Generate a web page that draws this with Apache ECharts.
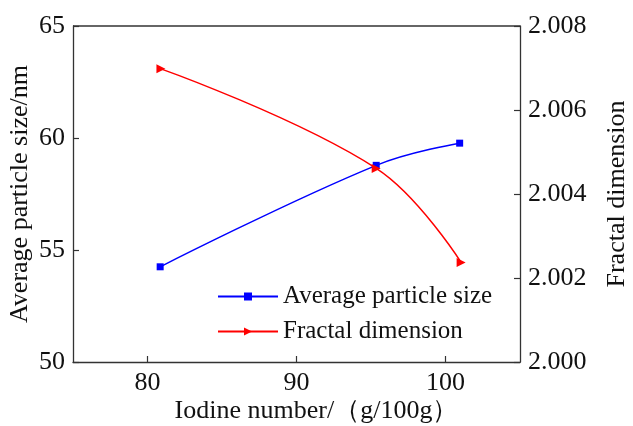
<!DOCTYPE html>
<html><head><meta charset="utf-8">
<script src="https://cdn.jsdelivr.net/npm/echarts@6/dist/echarts.min.js"></script>
<style>html,body{margin:0;padding:0;background:#fff}#c{width:633px;height:426px}</style>
</head><body><div id="c"></div>
<script>
const iodine = [80.85, 95.35, 100.95];
const particleSize = [54.25, 58.78, 59.77];
const iodineFD = [80.9, 95.35, 101.05];
const fractalDim = [2.00698, 2.00461, 2.00237];
const xTickValues = [80, 90, 100];
const seriesNames = ['Average particle size', 'Fractal dimension'];

const font = 'Liberation Serif';
const chart = echarts.init(document.getElementById('c'));
const axisLine = {show: true, lineStyle: {color: '#333', width: 1.3}};
const tick = {inside: true, length: 6, lineStyle: {color: '#333', width: 1.2}};
chart.setOption({
  animation: false,
  grid: {left: 73, right: 113, top: 26, bottom: 64, containLabel: false, outerBoundsMode: 'none'},
  legend: {
    orient: 'vertical', left: 217, top: 284, padding: 0, itemWidth: 60, itemHeight: 10, itemGap: 10,
    textStyle: {fontFamily: font, fontSize: 25, color: '#111'},
    data: seriesNames
  },
  xAxis: {
    type: 'value', min: 75, max: 105,
    name: 'Iodine number/（g/100g）', nameLocation: 'middle', nameGap: 36, nameMoveOverlap: false,
    nameTextStyle: {fontFamily: font, fontSize: 26, color: '#111', padding: [0, 0, 0, 40]},
    axisLine: axisLine,
    axisTick: Object.assign({customValues: xTickValues}, tick),
    splitLine: {show: false},
    axisLabel: {fontFamily: font, fontSize: 26, color: '#111', margin: 8, customValues: xTickValues}
  },
  yAxis: [{
    type: 'value', min: 50, max: 65, interval: 5, position: 'left',
    name: 'Average particle size/nm', nameLocation: 'middle', nameGap: 40, nameMoveOverlap: false,
    nameTextStyle: {fontFamily: font, fontSize: 26, color: '#111'},
    axisLine: axisLine, axisTick: tick,
    splitLine: {show: false},
    axisLabel: {fontFamily: font, fontSize: 26, color: '#111', margin: 8}
  }, {
    type: 'value', min: 2.000, max: 2.008, interval: 0.002, position: 'right',
    name: 'Fractal dimension', nameLocation: 'middle', nameGap: 84, nameRotate: 90, nameMoveOverlap: false,
    nameTextStyle: {fontFamily: font, fontSize: 26, color: '#111'},
    axisLine: axisLine, axisTick: tick,
    splitLine: {show: false},
    axisLabel: {fontFamily: font, fontSize: 26, color: '#111', margin: 8,
      formatter: v => v.toFixed(3)}
  }],
  graphic: [{type: 'line', shape: {x1: 73, y1: 26, x2: 520, y2: 26}, style: {stroke: '#333', lineWidth: 1.3}}],
  series: [{
    name: seriesNames[0], type: 'line', yAxisIndex: 0, smooth: 0.4,
    data: iodine.map((x, i) => [x, particleSize[i]]),
    symbol: 'rect', symbolSize: 7, itemStyle: {color: '#0000ff'},
    lineStyle: {color: '#0000ff', width: 1.5}
  }, {
    name: seriesNames[1], type: 'line', yAxisIndex: 1, smooth: 0.4,
    data: iodineFD.map((x, i) => [x, fractalDim[i]]),
    symbol: 'triangle', symbolRotate: -90, symbolSize: 9, itemStyle: {color: '#ff0000'},
    lineStyle: {color: '#ff0000', width: 1.5}
  }]
});
</script></body></html>
